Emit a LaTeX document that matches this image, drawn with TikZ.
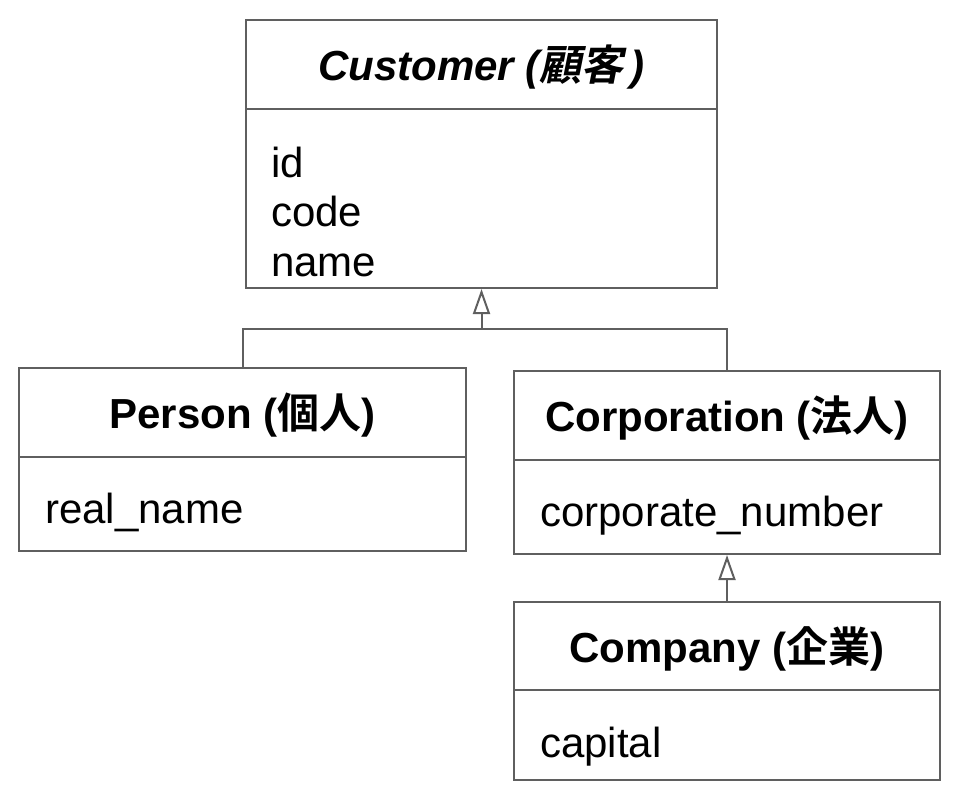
\documentclass[tikz,border=0pt]{standalone}
\usepackage{fontspec}
\setmainfont{Liberation Sans}
\newfontfamily\cjk{Noto Sans CJK JP}[BoldFont={* Bold}, ItalicFont={*}, ItalicFeatures={FakeSlant=0.2}, BoldItalicFont={* Bold}, BoldItalicFeatures={FakeSlant=0.2}]
\usetikzlibrary{arrows.meta}
\definecolor{edge}{RGB}{95,95,95}
\tikzset{
  box/.style={draw=edge, line width=2pt, rectangle, inner sep=0pt, fill=white},
  title/.style={font=\fontsize{42}{50}\selectfont\bfseries},
  attr/.style={anchor=base west, inner sep=0pt, font=\fontsize{42}{50}\selectfont},
  link/.style={draw=edge, line width=2pt},
  gen/.style={link, -{Triangle[open, length=25pt, width=17pt, fill=white]}}
}
\begin{document}
\begin{tikzpicture}[x=1pt, y=-1pt]
\useasboundingbox (0,0) rectangle (960,800);
% Customer
\node[box, minimum width=471pt, minimum height=89pt] (custh) at (481.5,64.5) {};
\node[box, minimum width=471pt, minimum height=179pt] (custb) at (481.5,198.5) {};
\node[title] (custt) at ([yshift=-3pt]custh.center) {\itshape Customer ({\cjk 顧客}\,)};
\node[attr] (cid) at (271,177) {id};
\node[attr] (ccode) at (271,226) {code};
\node[attr] (cname) at (271,276) {name};
% Person
\node[box, minimum width=447pt, minimum height=89pt] (persh) at (242.5,412.5) {};
\node[box, minimum width=447pt, minimum height=94pt] (persb) at (242.5,504) {};
\node[title] (perst) at ([yshift=-3pt]persh.center) {Person ({\cjk 個人})};
\node[attr] (preal) at (45,523) {real\_name};
% Corporation
\node[box, minimum width=426pt, minimum height=89pt] (corph) at (727,415.5) {};
\node[box, minimum width=426pt, minimum height=94pt] (corpb) at (727,507) {};
\node[title] (corpt) at ([yshift=-3pt]corph.center) {Corporation ({\cjk 法人})};
\node[attr] (cnum) at (540,526) {corporate\_number};
% Company
\node[box, minimum width=426pt, minimum height=88pt] (comph) at (727,646) {};
\node[box, minimum width=426pt, minimum height=90pt] (compb) at (727,735) {};
\node[title] (compt) at ([yshift=-3pt]comph.center) {Company ({\cjk 企業})};
\node[attr] (ccap) at (540,757) {capital};
% connectors
\coordinate (jn) at (481.5,329);
\draw[link] (persh.north) |- (jn) -| (corph.north);
\draw[gen] (jn) -- (custb.south);
\draw[gen] (comph.north) -- (corpb.south);
\end{tikzpicture}
\end{document}
